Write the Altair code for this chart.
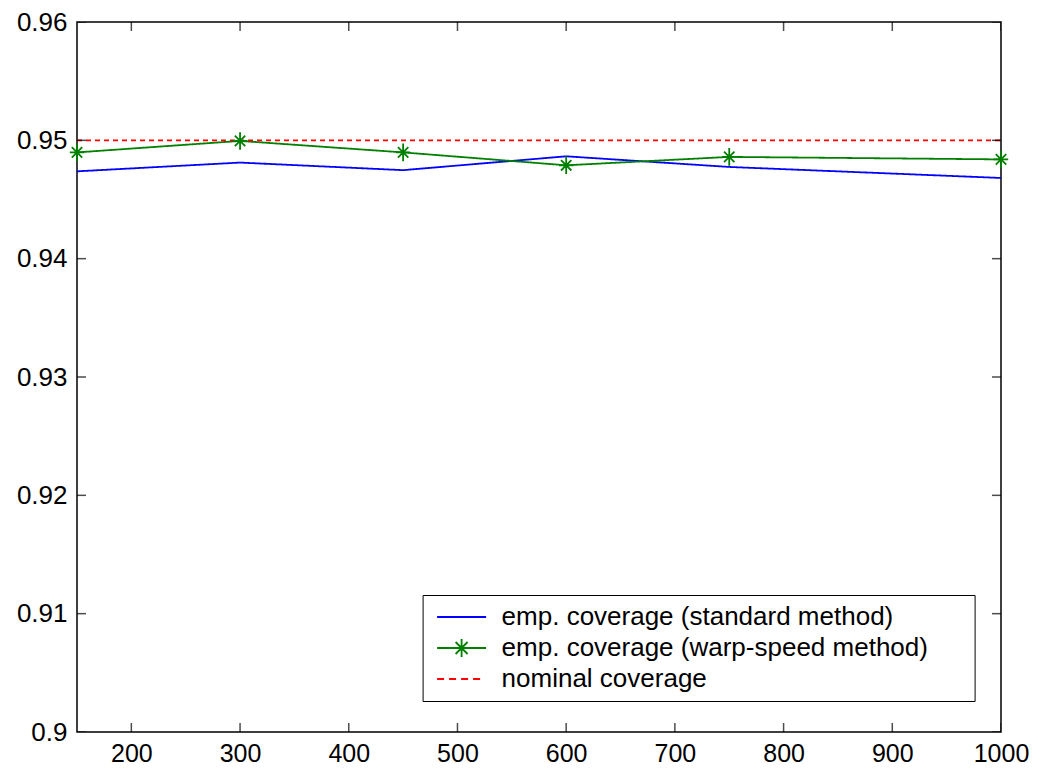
import altair as alt
import pandas as pd

# ---- data ----
n_points = [150, 300, 450, 600, 750, 1000]
standard = [0.94738, 0.94812, 0.94748, 0.94865, 0.94775, 0.94682]
warp = [0.94898, 0.94995, 0.94898, 0.94789, 0.94860, 0.94839]
nominal_x = [150, 1000]
nominal = [0.95, 0.95]

labels = ["emp. coverage (standard method)",
          "emp. coverage (warp-speed method)",
          "nominal coverage"]
colors = ["#0000ff", "#008000", "#ff0000"]

x_ticks = [200, 300, 400, 500, 600, 700, 800, 900, 1000]
y_ticks = [0.90, 0.91, 0.92, 0.93, 0.94, 0.95, 0.96]

rows = []
for n, v in zip(n_points, standard):
    rows.append({"n": n, "coverage": v, "series": labels[0]})
for n, v in zip(n_points, warp):
    rows.append({"n": n, "coverage": v, "series": labels[1]})
for n, v in zip(nominal_x, nominal):
    rows.append({"n": n, "coverage": v, "series": labels[2]})
df = pd.DataFrame(rows)

FONT = "Liberation Sans"
STAR = "M0,-1.1L0,1.1M-0.9,0L0.9,0M-0.65,-0.65L0.65,0.65M-0.65,0.65L0.65,-0.65"
LEG_LINE = "M-2.45,0L2.45,0"
LEG_STAR = "M-2.45,0L2.45,0M0,-0.9L0,0.9M-0.6,-0.6L0.6,0.6M-0.6,0.6L0.6,-0.6"
LEG_DASH = "M-2.45,0L-1.75,0M-1.25,0L-0.55,0M-0.05,0L0.65,0M1.15,0L1.85,0"

xscale = alt.Scale(domain=[150, 1000], nice=False, zero=False)
yscale = alt.Scale(domain=[0.9, 0.96], nice=False, zero=False)


def color_scale():
    return alt.Scale(domain=labels, range=colors)


xaxis = alt.Axis(values=x_ticks, format="d", title=None, grid=False, ticks=False,
                 domain=False, labelFontSize=25, labelPadding=9, labelColor="black",
                 labelFont=FONT, labelFlush=False, labelOverlap=False)
yaxis = alt.Axis(values=y_ticks, format=".2~f", title=None, grid=False, ticks=False,
                 domain=False, labelFontSize=26, labelPadding=10, labelColor="black",
                 labelFont=FONT, labelOverlap=False)

X = alt.X("n:Q", scale=xscale, axis=xaxis)
Y = alt.Y("coverage:Q", scale=yscale, axis=yaxis)

base = alt.Chart(df).encode(x=X, y=Y)

lines = base.mark_line(strokeWidth=1.8).encode(
    color=alt.Color("series:N", scale=color_scale(), legend=None),
    strokeDash=alt.StrokeDash("series:N",
                              scale=alt.Scale(domain=labels, range=[[1, 0], [1, 0], [5, 4]]),
                              legend=None),
)

markers = base.transform_filter(alt.datum.series == labels[1]).mark_point(
    shape=STAR, size=256, filled=False, strokeWidth=1.8, opacity=1
).encode(color=alt.Color("series:N", scale=color_scale(), legend=None))

leg = alt.Legend(title=".", titleOrient="right", titleFontSize=10, titleColor="white",
                 titlePadding=35,
                 orient="none", legendX=345.6, legendY=573,
                 padding=9, rowPadding=5, symbolSize=400, symbolStrokeWidth=1.8,
                 symbolOffset=17, labelOffset=27, labelFontSize=26, labelFont=FONT,
                 labelColor="black", labelLimit=700, strokeColor="black",
                 fillColor="white")

legend_layer = base.transform_filter("false").mark_point(
    filled=False, strokeWidth=1.8, opacity=1
).encode(
    color=alt.Color("series:N", scale=color_scale(), legend=leg),
    shape=alt.Shape("series:N", scale=alt.Scale(domain=labels,
                                                range=[LEG_LINE, LEG_STAR, LEG_DASH]),
                    legend=leg),
)

xt_df = pd.DataFrame({"n": x_ticks})
yt_df = pd.DataFrame({"coverage": y_ticks})

tick_style = dict(size=18, thickness=1.5, color="black", clip=True)
bottom_ticks = alt.Chart(xt_df).mark_tick(orient="vertical", **tick_style).encode(
    x=X, y=alt.datum(0.9))
top_ticks = alt.Chart(xt_df).mark_tick(orient="vertical", **tick_style).encode(
    x=X, y=alt.datum(0.96))
left_ticks = alt.Chart(yt_df).mark_tick(orient="horizontal", **tick_style).encode(
    y=Y, x=alt.datum(150))
right_ticks = alt.Chart(yt_df).mark_tick(orient="horizontal", **tick_style).encode(
    y=Y, x=alt.datum(1000))

chart = alt.layer(
    lines, markers, bottom_ticks, top_ticks, left_ticks, right_ticks, legend_layer
).resolve_scale(
    color="independent"
).resolve_legend(
    color="independent", shape="independent"
).properties(
    width=924, height=710,
    autosize=alt.AutoSizeParams(type="none"),
    padding={"left": 69, "top": 14, "right": 28, "bottom": 35},
).configure(
    font=FONT, background="white"
).configure_view(
    stroke="black", strokeWidth=1.5
)

chart.save("out.html", embed_options={"renderer": "svg", "actions": False})
